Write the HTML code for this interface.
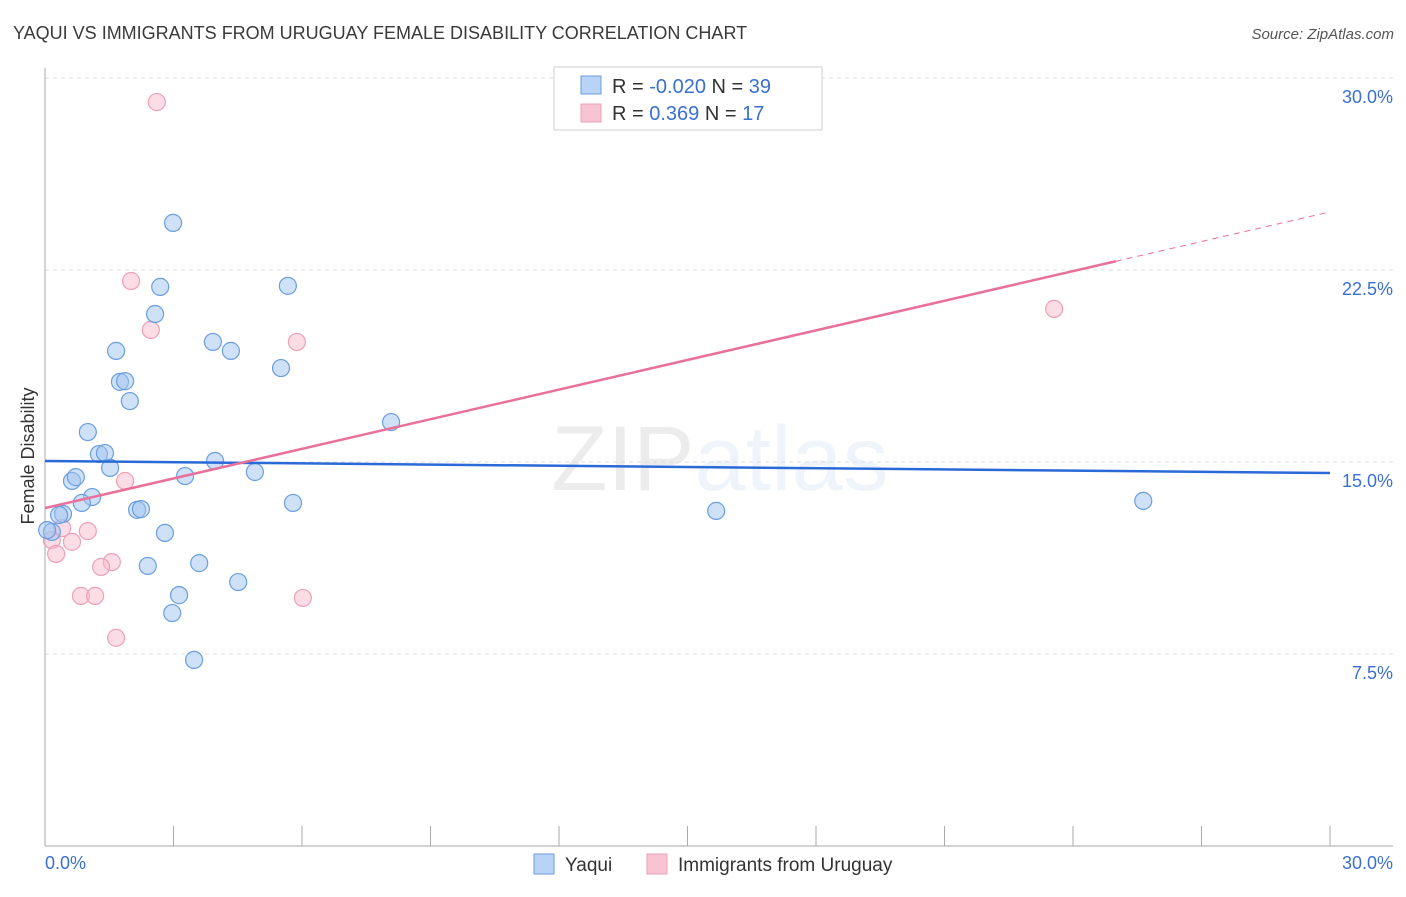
<!DOCTYPE html>
<html><head><meta charset="utf-8"><style>
body{margin:0;background:#fff;font-family:"Liberation Sans",sans-serif;}
svg text{font-family:"Liberation Sans",sans-serif;}
</style></head><body>
<svg id="chart" width="1406" height="892" xmlns="http://www.w3.org/2000/svg">
<text x="13" y="39" font-size="18" fill="#3a3a3a">YAQUI VS IMMIGRANTS FROM URUGUAY FEMALE DISABILITY CORRELATION CHART</text>
<text x="1394" y="39" font-size="15" fill="#555" text-anchor="end" font-style="italic">Source: ZipAtlas.com</text>
<text x="720" y="490" font-size="92" text-anchor="middle" fill="#000" opacity="0.07" font-family="Liberation Serif">ZIP<tspan fill="#3070d0" opacity="1" font-family="Liberation Sans">atlas</tspan></text>
<g id="grid"></g>
<g id="axes"></g>
<g id="marks"></g>
<text transform="translate(34,456) rotate(-90)" font-size="18" fill="#333" text-anchor="middle">Female Disability</text>
<g>
<rect x="554" y="67" width="268" height="63" fill="#fff" stroke="#ccc"/>
<rect x="581" y="76" width="20" height="18" fill="#b8d3f5" stroke="#6a9ee0"/>
<rect x="581" y="104" width="20" height="18" fill="#f8c4d3" stroke="#eda0b8"/>
<text x="612" y="93" font-size="20" fill="#333">R = <tspan fill="#3a70d0">-0.020</tspan>   N = <tspan fill="#3a70d0">39</tspan></text>
<text x="612" y="120" font-size="20" fill="#333">R =   <tspan fill="#3a70d0">0.369</tspan>   N =  <tspan fill="#3a70d0">17</tspan></text>
</g>
<g>
<rect x="534" y="854" width="20" height="20" fill="#b8d3f5" stroke="#6a9ee0"/>
<text x="565" y="871" font-size="19" fill="#333">Yaqui</text>
<rect x="647" y="854" width="20" height="20" fill="#f8c4d3" stroke="#eda0b8"/>
<text x="678" y="871" font-size="19" fill="#333">Immigrants from Uruguay</text>
</g>
</svg>
<script>
const blueX=[2.99,2.69,5.67,2.57,3.92,4.34,1.66,5.51,1.75,1.87,1.98,8.08,1.00,1.26,1.40,1.52,3.97,0.63,0.72,3.27,4.90,1.10,0.86,5.79,2.15,2.24,0.42,0.33,15.67,25.64,0.16,2.80,2.40,3.60,4.51,3.13,2.97,3.48,0.05];
const blueY=[24.34,21.84,21.88,20.78,19.69,19.34,19.34,18.67,18.13,18.16,17.38,16.56,16.17,15.31,15.35,14.77,15.04,14.26,14.41,14.45,14.61,13.63,13.40,13.40,13.13,13.16,12.97,12.93,13.09,13.48,12.27,12.23,10.94,11.05,10.31,9.80,9.10,7.27,12.34];
const pinkX=[2.61,2.01,2.47,5.88,23.56,1.87,1.00,0.40,0.63,0.16,0.26,1.56,1.31,0.84,1.17,6.02,1.66];
const pinkY=[29.06,22.07,20.16,19.69,20.98,14.26,12.30,12.42,11.88,11.95,11.41,11.09,10.90,9.77,9.77,9.69,8.13];
const yTicks=[7.5,15.0,22.5,30.0];
const yTickLabels=["7.5%","15.0%","22.5%","30.0%"];
const xTickLabels=["0.0%","30.0%"];
const blueTrend=[15.04,14.57];
const pinkTrend=[13.2,24.77];
const pinkSolidEnd=25.0;
const NS="http://www.w3.org/2000/svg";
const X0=45,X1=1330,Y0=846,Y1=78;
const sx=v=>X0+(v/30)*(X1-X0);
const sy=v=>Y0-(v/30)*(Y0-Y1);
function mk(t,a,p){const e=document.createElementNS(NS,t);for(const k in a)e.setAttribute(k,a[k]);p.appendChild(e);return e;}
const grid=document.getElementById('grid'),axes=document.getElementById('axes'),marks=document.getElementById('marks');
yTicks.forEach((v,i)=>{
 const l=mk('line',{x1:X0,x2:1393,y1:sy(v),y2:sy(v),stroke:'#ddd','stroke-dasharray':'4,4'},grid);
 
 
 const t=mk('text',{x:1393,y:sy(v)+25,'font-size':18,fill:'#3a70d0','text-anchor':'end'},axes);
 t.textContent=yTickLabels[i];
 
 
});
const ax=mk('line',{x1:X0,x2:X0,y1:68,y2:Y0,stroke:'#aaa'},axes);


const bx=mk('line',{x1:X0,x2:1393,y1:Y0,y2:Y0,stroke:'#aaa'},axes);


for(let i=0;i<=10;i++){const v=i*3;
 const tk=mk('line',{x1:sx(v),x2:sx(v),y1:826,y2:Y0,stroke:'#aaa'},axes);
 
 
}
[[0,'start',45],[30,'end',1393]].forEach((d,i)=>{
 const t=mk('text',{x:d[2],y:869,'font-size':18,fill:'#3a70d0','text-anchor':d[1]},axes);
 t.textContent=xTickLabels[i];
 
 
});
pinkX.forEach((x,i)=>{
 const c=mk('circle',{cx:sx(x),cy:sy(pinkY[i]),r:8.5,fill:'rgba(248,180,200,0.45)',stroke:'#eda0b8','stroke-width':1.2},marks);
 
 
});
blueX.forEach((x,i)=>{
 const c=mk('circle',{cx:sx(x),cy:sy(blueY[i]),r:8.5,fill:'rgba(160,196,240,0.5)',stroke:'#6a9ee0','stroke-width':1.2},marks);
 
 
});
const bl=mk('line',{x1:sx(0),y1:sy(blueTrend[0]),x2:sx(30),y2:sy(blueTrend[1]),stroke:'#2a6ad8','stroke-width':2.5},marks);


const pe=pinkTrend[0]+(pinkTrend[1]-pinkTrend[0])*pinkSolidEnd/30;
const pl=mk('line',{x1:sx(0),y1:sy(pinkTrend[0]),x2:sx(pinkSolidEnd),y2:sy(pe),stroke:'#e8709a','stroke-width':2.5},marks);


const pd=mk('line',{x1:sx(pinkSolidEnd),y1:sy(pe),x2:sx(30),y2:sy(pinkTrend[1]),stroke:'#e8709a','stroke-width':1,'stroke-dasharray':'6,5'},marks);


</script>
</body></html>
